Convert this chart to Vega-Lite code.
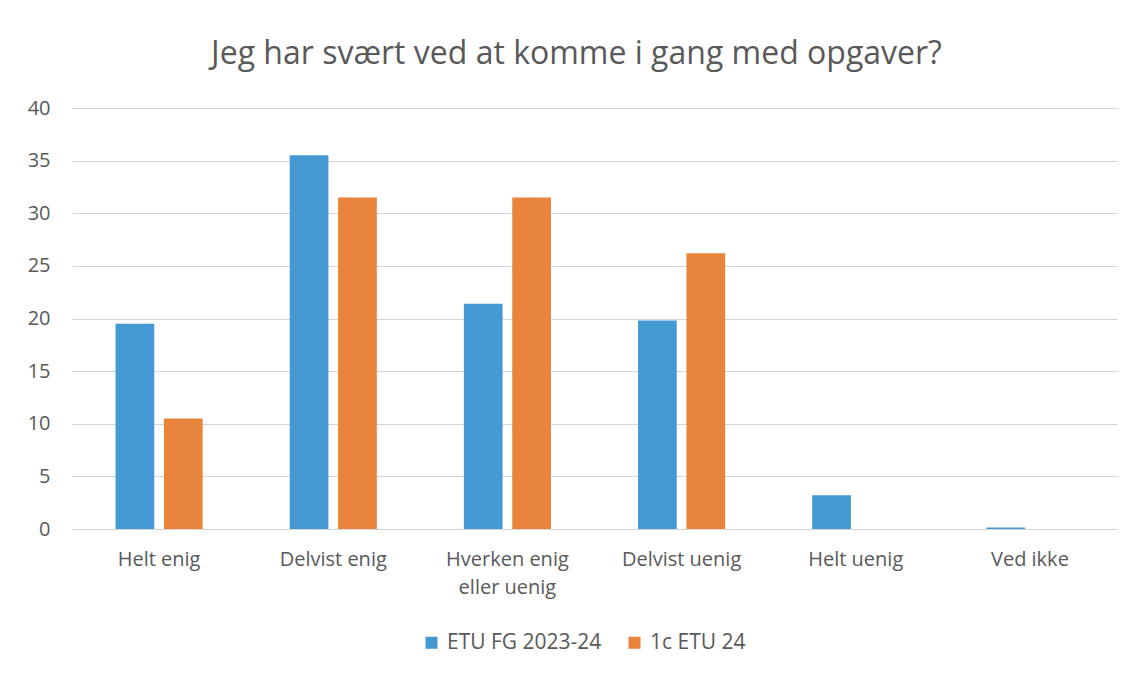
{
  "$schema": "https://vega.github.io/schema/vega-lite/v6.json",
  "width": 1045,
  "height": 421,
  "autosize": {"type": "none"},
  "padding": {"left": 72, "top": 108, "right": 15, "bottom": 148},
  "background": "white",
  "title": {
    "text": "Jeg har svært ved at komme i gang med opgaver?",
    "font": "Open Sans",
    "fontSize": 32,
    "fontWeight": "normal",
    "color": "#595959",
    "anchor": "middle",
    "dx": -18,
    "offset": 27
  },
  "config": {
    "view": {"stroke": null},
    "font": "Open Sans"
  },
  "data": {
    "values": [
      {"kategori": "Helt enig", "serie": "ETU FG 2023-24", "andel": 19.5},
      {"kategori": "Helt enig", "serie": "1c ETU 24", "andel": 10.5},
      {"kategori": "Delvist enig", "serie": "ETU FG 2023-24", "andel": 35.5},
      {"kategori": "Delvist enig", "serie": "1c ETU 24", "andel": 31.5},
      {"kategori": "Hverken enig eller uenig", "serie": "ETU FG 2023-24", "andel": 21.4},
      {"kategori": "Hverken enig eller uenig", "serie": "1c ETU 24", "andel": 31.5},
      {"kategori": "Delvist uenig", "serie": "ETU FG 2023-24", "andel": 19.8},
      {"kategori": "Delvist uenig", "serie": "1c ETU 24", "andel": 26.2},
      {"kategori": "Helt uenig", "serie": "ETU FG 2023-24", "andel": 3.2},
      {"kategori": "Helt uenig", "serie": "1c ETU 24", "andel": 0},
      {"kategori": "Ved ikke", "serie": "ETU FG 2023-24", "andel": 0.15},
      {"kategori": "Ved ikke", "serie": "1c ETU 24", "andel": 0}
    ]
  },
  "mark": {"type": "bar"},
  "encoding": {
    "x": {
      "field": "kategori",
      "type": "nominal",
      "sort": null,
      "scale": {"paddingInner": 0.5, "paddingOuter": 0.25},
      "axis": {
        "title": null,
        "labelAngle": 0,
        "labelFontSize": 20,
        "labelColor": "#595959",
        "labelPadding": 20,
        "labelLineHeight": 28,
        "labelExpr": "datum.label == 'Hverken enig eller uenig' ? ['Hverken enig', 'eller uenig'] : datum.label",
        "ticks": false,
        "domain": false,
        "grid": false
      }
    },
    "xOffset": {
      "field": "serie",
      "type": "nominal",
      "sort": ["ETU FG 2023-24", "1c ETU 24"],
      "scale": {"paddingInner": 0.2, "paddingOuter": 0}
    },
    "y": {
      "field": "andel",
      "type": "quantitative",
      "scale": {"domain": [0, 40]},
      "axis": {
        "title": null,
        "values": [0, 5, 10, 15, 20, 25, 30, 35, 40],
        "labelFontSize": 20,
        "labelColor": "#595959",
        "labelPadding": 22,
        "ticks": false,
        "domain": false,
        "gridColor": "#d4d4d4",
        "gridWidth": 1
      }
    },
    "color": {
      "field": "serie",
      "type": "nominal",
      "sort": ["ETU FG 2023-24", "1c ETU 24"],
      "scale": {"domain": ["ETU FG 2023-24", "1c ETU 24"], "range": ["#4499d3", "#e8843c"]},
      "legend": {
        "title": null,
        "orient": "none",
        "direction": "horizontal",
        "legendX": 349,
        "legendY": 524,
        "symbolType": "square",
        "symbolSize": 144,
        "symbolStrokeWidth": 0,
        "labelFontSize": 21,
        "labelColor": "#595959",
        "labelOffset": 5,
        "columnPadding": 22
      }
    }
  }
}
